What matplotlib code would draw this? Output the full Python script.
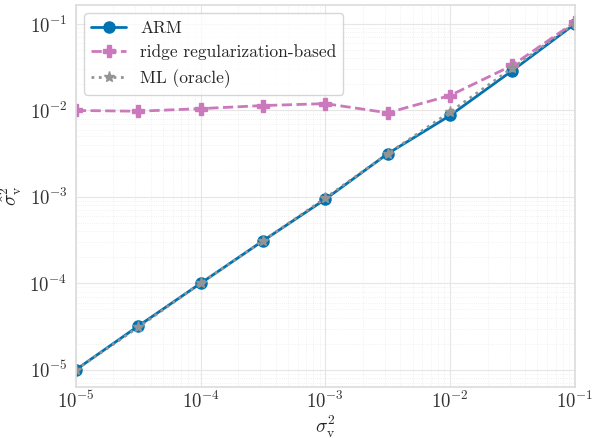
import numpy as np
import matplotlib
matplotlib.use("Agg")
import matplotlib.pyplot as plt
import seaborn as sns

# noise variance grid and estimated variances
sigma2_true = [1e-5, 3.16e-5, 1e-4, 3.16e-4, 1e-3, 3.16e-3, 1e-2, 3.16e-2, 1e-1]
arm_est = [1e-5, 3.2e-5, 1e-4, 3.1e-4, 9.4e-4, 3.16e-3, 8.75e-3, 2.9e-2, 1e-1]
ridge_est = [0.0100, 0.0098, 0.0105, 0.0114, 0.0120, 0.0094, 0.0149, 0.0333, 0.105]
ml_est = [1e-5, 3.1e-5, 1e-4, 3.1e-4, 9.7e-4, 3.16e-3, 9.6e-3, 3.1e-2, 1.02e-1]

sns.set_theme(style="whitegrid")
plt.rcParams['font.family'] = 'serif'
plt.rcParams['font.serif'] = ['cmr10']
plt.rcParams['mathtext.fontset'] = 'cm'
plt.rcParams['axes.formatter.use_mathtext'] = True

colors = sns.color_palette("colorblind")

fig = plt.figure(figsize=(5.92, 4.38), dpi=100)
ax = fig.add_axes([0.128, 0.116, 0.843, 0.873])

ax.plot(sigma2_true, arm_est, '-o', color=colors[0], lw=2, ms=8, label='ARM')
ax.plot(sigma2_true, ridge_est, '--P', color=colors[4], lw=2, ms=9, label='ridge regularization-based')
ax.plot(sigma2_true, ml_est, ':*', color=colors[7], lw=2, ms=8, label='ML (oracle)')

ax.set_xscale('log')
ax.set_yscale('log')
ax.set_xlim(1e-5, 1e-1)

ax.grid(True, which='major', color='#e6e6e6', lw=0.8)
ax.grid(True, which='minor', color='#ececec', lw=0.6, ls=':')
for s in ax.spines.values():
    s.set_color('#dddddd')

ax.tick_params(which='both', length=0, labelsize=13.5, colors='#333333')
ax.tick_params(axis='x', pad=3)
ax.tick_params(axis='y', pad=6)
ax.set_xlabel(r'$\sigma_{\rm v}^2$', fontsize=14, labelpad=1)
ax.set_ylabel(r'$\hat{\sigma}_{\rm v}^2$', fontsize=14, labelpad=4)
ax.legend(loc='upper left', fontsize=12.5, frameon=True)

fig.savefig('out.png', dpi=100)
